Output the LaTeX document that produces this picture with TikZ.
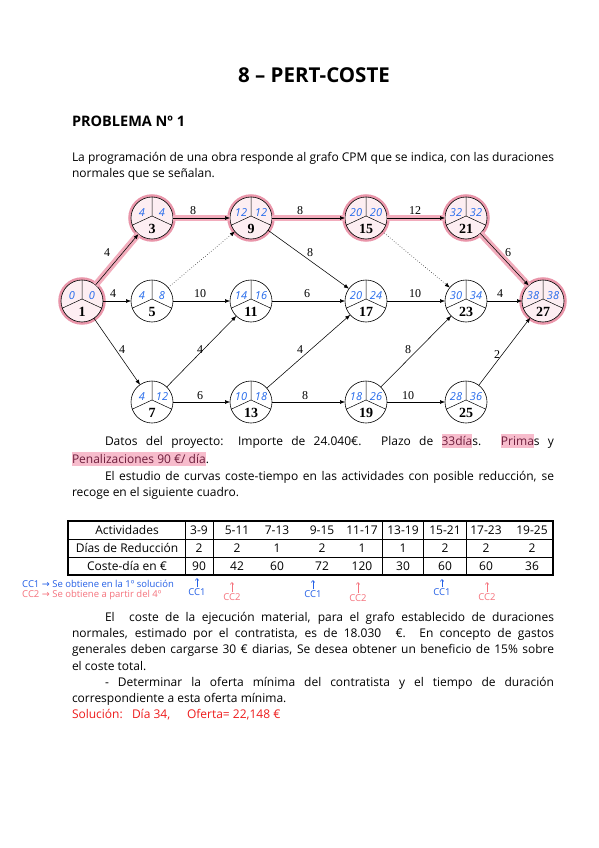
\documentclass[tikz,border=0pt]{standalone}
\usepackage{fontspec}
\setmainfont{Open Sans}
\newfontfamily\serifnum{Liberation Serif}
\newfontfamily\symfont{DejaVu Sans}
\usetikzlibrary{arrows.meta}
\definecolor{halo}{RGB}{234,150,170}
\definecolor{critc}{RGB}{242,172,188}
\definecolor{hfill}{RGB}{253,238,242}
\definecolor{nblue}{RGB}{35,105,235}
\definecolor{markc}{RGB}{247,188,204}
\definecolor{markt}{RGB}{110,30,60}
\definecolor{solred}{RGB}{238,28,28}
\definecolor{ccblue}{RGB}{35,95,230}
\definecolor{ccpink}{RGB}{245,115,125}
\newcommand{\hlm}[1]{{\setlength{\fboxsep}{0pt}\colorbox{markc}{\vphantom{Ág}\color{markt}#1}}}
\newcommand{\evnode}[7]{%
  \node[#1] (#2) at (#3,#4) {};
  \draw[line width=0.5pt] (#2.90) -- ([yshift=2pt]#2.center) -- (#2.200)
        ([yshift=2pt]#2.center) -- (#2.340);
  \node[tim] at ([xshift=-10pt,yshift=5pt]#2.center) {#5};
  \node[tim] at ([xshift=10pt,yshift=5pt]#2.center) {#6};
  \node[num] at ([yshift=-11pt]#2.center) {#7};
}
\newcommand{\jline}[3]{\node[txt] at (#1,#2) {\makebox[\dimexpr554pt-#1pt\relax][s]{#3}};}
\newcommand{\pline}[3]{\node[txt] at (#1,#2) {#3};}
\begin{document}
\begin{tikzpicture}[x=1pt,y=-1pt,
  ev/.style={circle, draw=black, line width=0.6pt, fill=white, minimum size=42pt, inner sep=0pt, outer sep=0pt},
  evc/.style={ev, fill=hfill, preaction={draw=halo, line width=5.5pt}},
  arr/.style={-{Latex[length=5pt,width=4pt]}, line width=0.55pt},
  dum/.style={arr, dotted},
  crit/.style={critc, line width=6.5pt},
  elab/.style={font=\serifnum\fontsize{12}{12}\selectfont, inner sep=0pt},
  tim/.style={font=\itshape\fontsize{11}{11}\selectfont, text=nblue, inner sep=0pt},
  num/.style={font=\serifnum\bfseries\fontsize{14}{14}\selectfont, inner sep=0pt},
  txt/.style={anchor=base west, inner sep=0pt, outer sep=0pt, font=\fontsize{12}{14}\selectfont},
  tcell/.style={anchor=base, inner sep=0pt, font=\fontsize{12}{14}\selectfont},
  ccb/.style={inner sep=0pt, font=\fontsize{9.5}{10}\selectfont, text=ccblue},
  ccp/.style={inner sep=0pt, font=\fontsize{9.5}{10}\selectfont, text=ccpink},
  cca/.style={-{Straight Barb[length=2pt,width=3.5pt]}, line width=0.6pt},
]
\useasboundingbox[fill=white] (0,0) rectangle (599,848);

% titles
\node[anchor=base, inner sep=0pt, font=\bfseries\fontsize{20.5}{22}\selectfont] (title) at (314,83) {8 – PERT-COSTE};
\node[txt, font=\bfseries\fontsize{14.5}{16}\selectfont] (prob) at (72,127) {PROBLEMA Nº 1};

% intro
\jline{72}{161}{La programación de una obra responde al grafo CPM que se indica, con las duraciones}
\pline{72}{177}{normales que se señalan.}

% graph nodes
\evnode{evc}{n1}{82}{301}{0}{0}{1}
\evnode{evc}{n3}{152}{218}{4}{4}{3}
\evnode{ev}{n5}{152}{301}{4}{8}{5}
\evnode{ev}{n7}{152}{402}{4}{12}{7}
\evnode{evc}{n9}{251}{218}{12}{12}{9}
\evnode{ev}{n11}{251}{301}{14}{16}{11}
\evnode{ev}{n13}{251}{402}{10}{18}{13}
\evnode{evc}{n15}{366}{218}{20}{20}{15}
\evnode{ev}{n17}{366}{301}{20}{24}{17}
\evnode{ev}{n19}{366}{402}{18}{26}{19}
\evnode{evc}{n21}{466}{218}{32}{32}{21}
\evnode{ev}{n23}{466}{301}{30}{34}{23}
\evnode{ev}{n25}{466}{402}{28}{36}{25}
\evnode{evc}{n27}{543}{301}{38}{38}{27}

% critical path band
\foreach \a/\b in {n1/n3, n3/n9, n9/n15, n15/n21, n21/n27}
  \draw[crit] (\a) -- (\b);

% arrows
\draw[arr] (n1) -- (n3);
\draw[arr] (n1) -- (n5);
\draw[arr] (n1) -- (n7);
\draw[arr] (n3) -- (n9);
\draw[dum] (n5) -- (n9);
\draw[arr] (n5) -- (n11);
\draw[arr] (n7) -- (n11);
\draw[arr] (n7) -- (n13);
\draw[arr] (n9) -- (n15);
\draw[arr] (n9) -- (n17);
\draw[arr] (n11) -- (n17);
\draw[arr] (n13) -- (n17);
\draw[arr] (n13) -- (n19);
\draw[arr] (n15) -- (n21);
\draw[dum] (n15) -- (n23);
\draw[arr] (n17) -- (n23);
\draw[arr] (n19) -- (n23);
\draw[arr] (n19) -- (n25);
\draw[arr] (n21) -- (n27);
\draw[arr] (n23) -- (n27);
\draw[arr] (n25) -- (n27);

% edge labels
\node[elab] at (107,253) {4};
\node[elab] at (193,211) {8};
\node[elab] at (300,211) {8};
\node[elab] at (310,253) {8};
\node[elab] at (113,294) {4};
\node[elab] at (200,294) {10};
\node[elab] at (307,294) {6};
\node[elab] at (122,350) {4};
\node[elab] at (200,350) {4};
\node[elab] at (300,350) {4};
\node[elab] at (200,396) {6};
\node[elab] at (305,396) {8};
\node[elab] at (415,211) {12};
\node[elab] at (508,253) {6};
\node[elab] at (415,294) {10};
\node[elab] at (500,294) {4};
\node[elab] at (408,350) {8};
\node[elab] at (497,355) {2};
\node[elab] at (408,396) {10};

% project data
\jline{105}{445}{Datos del proyecto: Importe de 24.040€. Plazo de \hlm{33día}s. \hlm{Prima}s y}
\pline{72}{463}{\hlm{Penalizaciones 90 €/ día}.}
\jline{105}{480}{El estudio de curvas coste-tiempo en las actividades con posible reducción, se}
\pline{72}{496}{recoge en el siguiente cuadro.}

% table
\draw[line width=0.8pt] (68,539) -- (553,539) (68,557) -- (553,557)
  (185,521) -- (185,575) (213,521) -- (213,575) (382,521) -- (382,575)
  (423,521) -- (423,575) (466,521) -- (466,575);
\draw[line width=1.6pt] (68,521) rectangle (553,575);
\foreach \x/\a/\b/\c in {127/Actividades/Días de Reducción/Coste-día en €,
  199/3-9/2/90, 237/5-11/2/42, 277/7-13/1/60, 322/9-15/2/72, 362/11-17/1/120,
  403/13-19/1/30, 445/15-21/2/60, 486/17-23/2/60, 532/19-25/2/36}{
  \node[tcell] at (\x,534.5) {\a};
  \node[tcell] at (\x,552.5) {\b};
  \node[tcell] at (\x,570.5) {\c};
}

% annotations
\node[ccb, anchor=base west] (leg1) at (22,587) {CC1 {\symfont →} Se obtiene en la 1º solución};
\node[ccp, anchor=base west] (leg2) at (22,597) {CC2 {\symfont →} Se obtiene a partir del 4º};
\node[ccb] (a1) at (197,592) {CC1};
\node[ccp] (a2) at (232,597) {CC2};
\node[ccb] (a3) at (313,594) {CC1};
\node[ccp] (a4) at (358,598) {CC2};
\node[ccb] (a5) at (442,592) {CC1};
\node[ccp] (a6) at (487,597) {CC2};
\coordinate (t1) at (197,578);
\coordinate (t2) at (232,582);
\coordinate (t3) at (313,580);
\coordinate (t4) at (358,582);
\coordinate (t5) at (442,579);
\coordinate (t6) at (487,582);
\draw[cca, ccblue] ([yshift=1pt]a1.north) -- (t1);
\draw[cca, ccpink] ([yshift=1pt]a2.north) -- (t2);
\draw[cca, ccblue] ([yshift=1pt]a3.north) -- (t3);
\draw[cca, ccpink] ([yshift=1pt]a4.north) -- (t4);
\draw[cca, ccblue] ([yshift=1pt]a5.north) -- (t5);
\draw[cca, ccpink] ([yshift=1pt]a6.north) -- (t6);

% final text
\jline{105}{621}{El\hspace{8pt} coste de la ejecución material, para el grafo establecido de duraciones}
\jline{72}{637}{normales, estimado por el contratista, es de 18.030\hspace{8pt} €. En concepto de gastos}
\jline{72}{653}{generales deben cargarse 30 € diarias, Se desea obtener un beneficio de 15\% sobre}
\pline{72}{670}{el coste total.}
\jline{105}{686}{- Determinar la oferta mínima del contratista y el tiempo de duración}
\pline{72}{702}{correspondiente a esta oferta mínima.}
\node[txt, text=solred] (sol) at (72,718) {\makebox[60pt][l]{Solución:}\makebox[55pt][l]{Día 34,}Oferta= 22,148 €};
\end{tikzpicture}
\end{document}
